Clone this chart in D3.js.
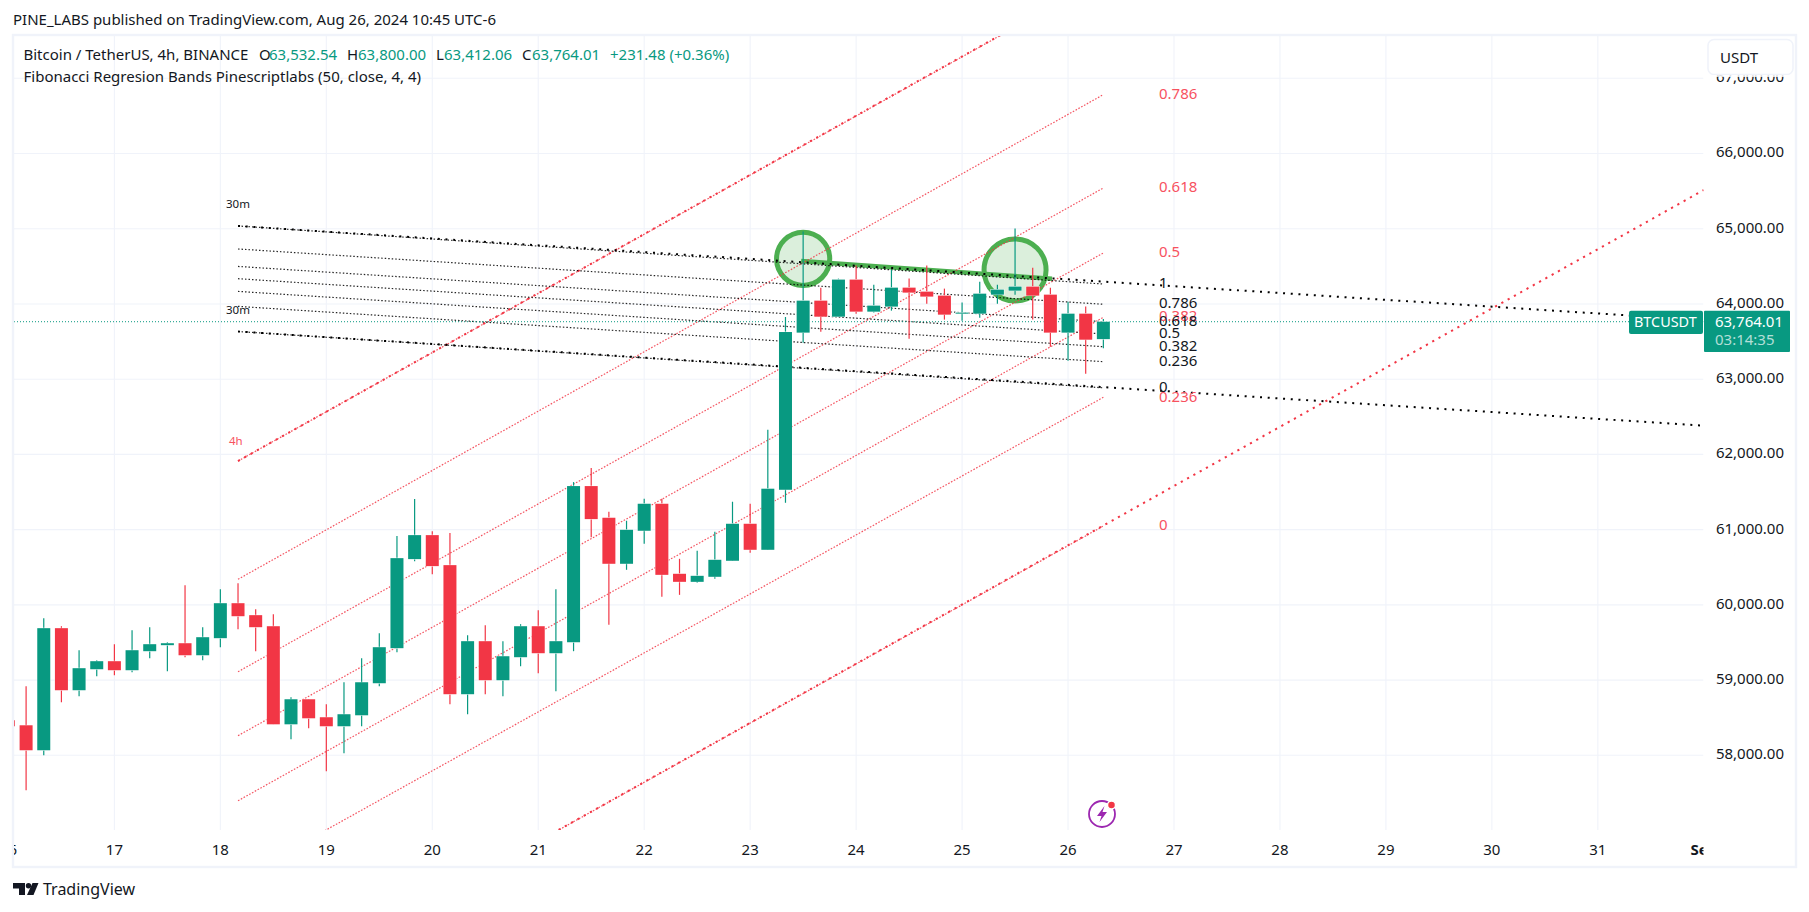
<!DOCTYPE html>
<html><head><meta charset="utf-8">
<script src="https://cdn.jsdelivr.net/npm/d3@7"></script>
<style>html,body{margin:0;padding:0;background:#fff;overflow:hidden}svg{display:block}text{font-family:"Noto Sans","Open Sans",sans-serif}</style>
</head><body>
<svg id="c" width="1809" height="912"></svg>
<script>
const opens=[58466,58399,58067,59690,58865,59144,59251,59131,59384,59464,59490,59330,59557,60022,59863,59716,58412,58745,58506,58386,58532,58958,59424,60608,60927,60528,58812,59517,58998,59304,59716,59357,59503,61579,61158,60546,60985,61344,60413,60306,60373,60586,61078,60732,61530,63619,64044,63831,64324,63898,63965,64217,64164,64111,63871,63871,64124,64177,64231,64124,63619,63871,63532.54];
const highs=[58470,58918,59823,59716,59397,59264,59477,59663,59703,59503,60262,59703,60209,60288,59943,59876,58772,58745,58679,58971,59291,59623,60914,61406,60980,60954,59597,59730,59517,59743,59929,60209,61632,61818,61238,61118,61411,61411,60612,60719,60971,61371,61344,62329,63827,64962,64217,64337,64510,64257,64457,64337,64510,64204,64018,64297,64257,65002,64483,64217,64031,63965,63800];
const lows=[58380,57534,58000,58705,58785,59051,59064,59104,59291,59118,59304,59264,59437,59676,59384,58412,58213,58359,57787,58027,58386,58918,59370,60581,60408,58679,58546,58812,58785,59184,59091,58852,59384,60900,59734,60466,60812,60107,60133,60293,60346,60586,60692,60732,61357,63486,63632,63831,63871,63885,63911,63539,64004,63792,63778,63818,64004,64124,63792,63432,63246,63073,63412.06];
const closes=[58386,58067,59690,58865,59158,59251,59131,59397,59477,59490,59330,59570,60022,59849,59703,58412,58745,58492,58386,58546,58971,59437,60621,60927,60515,58812,59517,58998,59317,59716,59357,59517,61579,61140,60546,60998,61344,60399,60306,60386,60599,61078,60732,61544,63627,64044,63831,64324,63898,63978,64217,64151,64098,63858,63885,64137,64191,64231,64111,63619,63871,63525,63764.01];

const priceTicks=[58000,59000,60000,61000,62000,63000,64000,65000,66000,67000];
const dayTicks=[16,17,18,19,20,21,22,23,24,25,26,27,28,29,30,31];
const firstDay=16, barsPerDay=6, bandStartBar=13, bandEndBar=62, extendDay=32;
const lastPrice=63764.01;

// Fibonacci bands: level, price at start bar, price at end bar
const redLevels=["1","0.786","0.618","0.5","0.382","0.236","0"];
const redStart=[61912,60340,59111,58261,57396,56356,54627];
const redEnd=[68334,66783,65542,64678,63823,62759,61048];
const redExtendEnd=[72800,null,null,null,null,null,65515];
const blackLevels=["1","0.786","0.618","0.5","0.382","0.236","0"];
const blackStart=[65037,64731,64499,64336,64167,63968,63634];
const blackEnd=[64265,63996,63764,63601,63432,63233,62885];
const blackExtendEnd=[63783,null,null,null,null,null,62382];

const trendPrices=[64570,64335];
const trendBars=[45,57];
const circleBars=[45,57];
const circlePrices=[64600,64452];

const green="#089981", red="#f23645", ink="#131722", gridC="#f0f3fa", frameC="#f0f3fa";
const L=14,R=1703.5,T=35.5,B=830;

const x=d3.scaleLinear().domain([17,27]).range([114.4,1174]);
const y=d3.scaleLinear().domain([58000,67000]).range([755.3,78.3]);
const barDay=i=>firstDay+i/barsPerDay;
const bx=i=>x(barDay(i));

const svg=d3.select("#c");
svg.append("rect").attr("width",1809).attr("height",912).attr("fill","#fff");
const defs=svg.append("defs");
defs.append("clipPath").attr("id","plot").append("rect").attr("x",L).attr("y",T).attr("width",R-L).attr("height",B-T);
defs.append("clipPath").attr("id","timeax").append("rect").attr("x",L).attr("y",B).attr("width",R-L).attr("height",36);

// grid
const grid=svg.append("g").attr("clip-path","url(#plot)").attr("stroke",gridC).attr("stroke-width",1.1);
grid.selectAll("line.h").data(priceTicks).join("line").attr("x1",L).attr("x2",R).attr("y1",d=>y(d)).attr("y2",d=>y(d));
grid.selectAll("line.v").data(dayTicks).join("line").attr("y1",T).attr("y2",B).attr("x1",d=>x(d)).attr("x2",d=>x(d));

const plot=svg.append("g").attr("clip-path","url(#plot)");

// drawings under candles
const circles=plot.append("g");
circles.selectAll("circle").data(circleBars).join("circle")
  .attr("cx",d=>bx(d)).attr("cy",(d,i)=>y(circlePrices[i]))
  .attr("r",(d,i)=>i===0?26.6:31)
  .attr("fill","rgba(76,175,80,0.2)").attr("stroke","#4caf50").attr("stroke-width",5);
plot.append("line").attr("x1",bx(trendBars[0])-2).attr("x2",bx(trendBars[1])+37)
  .attr("y1",y(trendPrices[0])).attr("y2",y(trendPrices[1]))
  .attr("stroke","#4caf50").attr("stroke-width",4.5);

function bandLines(g,starts,ends,exts,color,dashThin,dashThick,opThin,wThin){
  g.selectAll("line.thin").data(starts).join("line").attr("class","thin")
    .attr("x1",bx(bandStartBar)).attr("x2",bx(bandEndBar))
    .attr("y1",d=>y(d)).attr("y2",(d,i)=>y(ends[i]))
    .attr("stroke",color).attr("stroke-width",wThin).attr("stroke-opacity",opThin).attr("stroke-dasharray",dashThin);
  g.selectAll("line.thick").data(starts.map((d,i)=>({s:d,e:exts[i],i})).filter(d=>d.e!=null)).join("line").attr("class","thick")
    .attr("x1",bx(bandStartBar)).attr("x2",x(extendDay))
    .attr("y1",d=>y(d.s)).attr("y2",d=>y(d.e))
    .attr("stroke",color).attr("stroke-width",2).attr("stroke-dasharray",dashThick);
}
bandLines(plot.append("g"),redStart,redEnd,redExtendEnd,red,"1.6 1.6","2.2 5",0.85,1.2);
bandLines(plot.append("g"),blackStart,blackEnd,blackExtendEnd,"#000","1.5 2","2 5.7",0.85,1.2);

// last price line
plot.append("line").attr("x1",L).attr("x2",R).attr("y1",y(lastPrice)).attr("y2",y(lastPrice))
  .attr("stroke",green).attr("stroke-width",1).attr("stroke-dasharray","1 2");

// candles
const bars=d3.range(opens.length);
const col=i=>closes[i]>=opens[i]?green:red;
const cg=plot.append("g");
cg.selectAll("line").data(bars).join("line")
  .attr("x1",bx).attr("x2",bx).attr("y1",i=>y(highs[i])).attr("y2",i=>y(lows[i]))
  .attr("stroke",col).attr("stroke-width",1.2);
cg.selectAll("rect").data(bars).join("rect")
  .attr("x",i=>bx(i)-6.5).attr("width",13)
  .attr("y",i=>y(Math.max(opens[i],closes[i])))
  .attr("height",i=>Math.max(1,Math.abs(y(opens[i])-y(closes[i]))))
  .attr("fill",col).attr("stroke","#fff").attr("stroke-width",0.8).attr("paint-order","stroke");

// band text labels (the red level 1 falls above the plot and is not shown in the reference)
const lab=svg.append("g").attr("clip-path","url(#plot)").attr("font-size",15);
const labX=1159;
const redVisible=redLevels.map((d,i)=>i).filter(i=>y(redEnd[i])>T);
lab.selectAll("text.r").data(redVisible).join("text").attr("class","r")
  .attr("x",labX).attr("y",i=>y(redEnd[i])).attr("dy",".28em").attr("fill","#f7525f").text(i=>redLevels[i]);
lab.selectAll("text.b").data(blackLevels).join("text").attr("class","b")
  .attr("x",labX).attr("y",(d,i)=>y(blackEnd[i])).attr("dy",".28em").attr("fill",ink).text(d=>d);
const tfLabels=[["30m",65329,"#131722"],["30m",63919,"#131722"],["4h",62178,"#f7525f"]];
lab.selectAll("text.tf").data(tfLabels).join("text").attr("class","tf")
  .attr("x",(d,i)=>i===2?229:226).attr("y",d=>y(d[1])).attr("dy",".35em")
  .attr("font-size",11.5).attr("fill",d=>d[2]).text(d=>d[0]);

// frame
const frame=svg.append("g").attr("fill","none").attr("stroke",frameC).attr("stroke-width",2.4);
frame.append("rect").attr("x",13).attr("y",35).attr("width",1783).attr("height",832);

// time axis
const ta=svg.append("g").attr("clip-path","url(#timeax)").attr("font-size",15).attr("fill",ink).attr("text-anchor","middle");
ta.selectAll("text.d").data(dayTicks).join("text").attr("class","d").attr("x",d=>x(d)).attr("y",850).attr("dy",".35em").text(d=>d);
ta.append("text").attr("x",x(extendDay)).attr("y",850).attr("dy",".35em").attr("font-weight",700).text("Sep");

// price axis
const pa=svg.append("g").attr("font-size",15).attr("fill",ink).attr("text-anchor","end");
pa.selectAll("text").data(priceTicks).join("text").attr("x",1784).attr("y",d=>y(d)).attr("dy",".26em").text(d=>d3.format(",.2f")(d));

// USDT box
svg.append("rect").attr("x",1708).attr("y",39.5).attr("width",85).attr("height",35).attr("rx",6)
  .attr("fill","#fff").attr("stroke",frameC).attr("stroke-width",1.6);
svg.append("rect").attr("x",1704).attr("y",75.2).attr("width",90).attr("height",1.6).attr("fill","#fff");
svg.append("text").attr("x",1720).attr("y",57.5).attr("dy",".35em").attr("font-size",15).attr("fill",ink).text("USDT");

// last price tags
svg.append("rect").attr("x",1629).attr("y",310.7).attr("width",74).attr("height",23.3).attr("rx",2).attr("fill",green);
svg.append("text").attr("x",1634).attr("y",322).attr("dy",".35em").attr("font-size",14.4).attr("fill","#fff").text("BTCUSDT");
svg.append("rect").attr("x",1704).attr("y",310.7).attr("width",86).attr("height",41.3).attr("rx",1).attr("fill",green);
svg.append("text").attr("x",1783).attr("y",322).attr("dy",".35em").attr("text-anchor","end").attr("font-size",15).attr("fill","#fff").text(d3.format(",.2f")(lastPrice));
svg.append("text").attr("x",1715).attr("y",339.5).attr("dy",".35em").attr("font-size",15).attr("fill","rgba(255,255,255,.7)").text("03:14:35");

// header
svg.append("text").attr("x",13).attr("y",20).attr("dy",".35em").attr("font-size",15).attr("fill",ink)
  .text("PINE_LABS published on TradingView.com, Aug 26, 2024 10:45 UTC-6");
const leg=svg.append("g").attr("font-size",15);
const legendRow=[["Bitcoin / TetherUS, 4h, BINANCE",23.5,ink],["O",259,ink],["63,532.54",269,green],["H",347,ink],["63,800.00",358,green],["L",436,ink],["63,412.06",444,green],["C",522,ink],["63,764.01",532,green],["+231.48 (+0.36%)",610,green]];
leg.selectAll("text").data(legendRow).join("text").attr("x",d=>d[1]).attr("y",55).attr("dy",".35em").attr("fill",d=>d[2]).text(d=>d[0]);
svg.append("text").attr("x",23.5).attr("y",77).attr("dy",".35em").attr("font-size",15).attr("fill",ink).text("Fibonacci Regresion Bands Pinescriptlabs (50, close, 4, 4)");

// bolt icon
const ic=svg.append("g").attr("transform","translate(1102,814)");
ic.append("circle").attr("r",13).attr("fill","#fff").attr("stroke","#9c27b0").attr("stroke-width",1.8);
ic.append("path").attr("d","M2.5,-8 L-5,2 L-0.5,2 L-2.5,8 L5,-2 L0.5,-2 Z").attr("fill","#9c27b0");
ic.append("circle").attr("cx",9.5).attr("cy",-9).attr("r",4).attr("fill",red).attr("stroke","#fff").attr("stroke-width",1.5);

// TradingView logo
const logo=svg.append("g").attr("fill",ink);
logo.append("path").attr("d","M13,883 H25 V895 H19 V888.5 H13 Z");
logo.append("circle").attr("cx",28.5).attr("cy",885.7).attr("r",2.7);
logo.append("path").attr("d","M32.5,883 H38.5 L33.5,895 H27 Z");
svg.append("text").attr("x",43).attr("y",889.5).attr("dy",".35em").attr("font-size",16).attr("fill",ink).text("TradingView");
</script>
</body></html>
